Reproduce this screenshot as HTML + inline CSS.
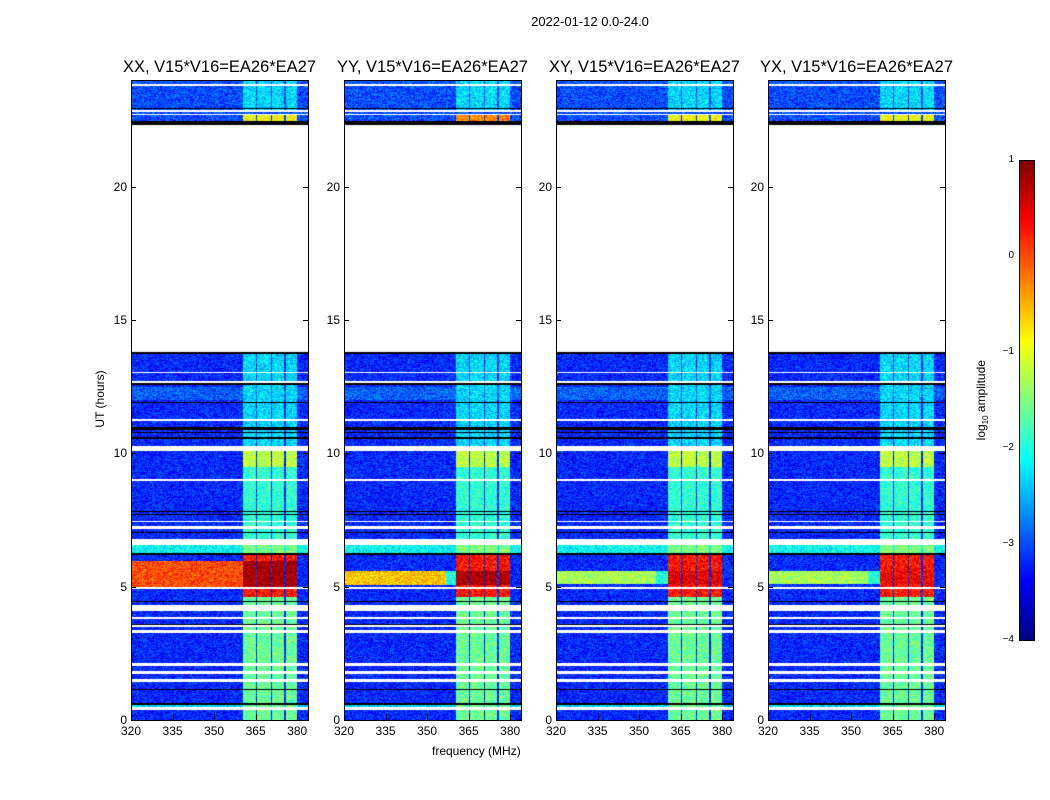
<!DOCTYPE html>
<html><head><meta charset="utf-8"><style>
body{margin:0;background:#fff;width:1050px;height:800px;position:relative;overflow:hidden;font-family:"Liberation Sans",sans-serif;}
.t{position:absolute;white-space:nowrap;color:#000;}
canvas{position:absolute;}
.frame{position:absolute;border:1px solid #000;box-sizing:border-box;}
</style></head><body>
<div class="t" style="left:0;width:1180px;text-align:center;top:14px;font-size:13px;">2022-01-12 0.0-24.0</div>
<div class="t" style="left:432px;top:744px;font-size:12px;">frequency (MHz)</div>
<div class="t" style="left:40px;top:392px;font-size:12px;transform:rotate(-90deg);transform-origin:center;width:120px;text-align:center;">UT (hours)</div>
<div class="t" style="left:922px;top:392px;font-size:12px;transform:rotate(-90deg);width:120px;text-align:center;">log<sub style="font-size:8px">10</sub> amplitude</div>
<div id="root"></div>
<script>
const panelTitles=["XX, V15*V16=EA26*EA27","YY, V15*V16=EA26*EA27","XY, V15*V16=EA26*EA27","YX, V15*V16=EA26*EA27"];
const panelLefts=[131,344,556,768];
const xTicks=[320,335,350,365,380];
const yTicks=[0,5,10,15,20];
const cbTicks=[1,0,-1,-2,-3,-4];
// flagged (white) time ranges in hours
const whiteGaps=[[0.38,0.5],[1.42,1.52],[1.72,1.82],[2.02,2.12],[3.28,3.36],[3.5,3.58],[3.78,3.86],[4.1,4.33],[4.92,4.97],[6.55,6.78],[7.18,7.26],[7.42,7.48],[8.98,9.04],[10.08,10.28],[11.22,11.27],[12.65,12.72],[13.0,13.05],[13.8,22.3],[22.68,22.74],[22.8,22.86],[23.78,23.84]];
// black (zero) rows
const blackRows=[[0.58,0.64],[1.12,1.16],[3.56,3.6],[4.42,4.46],[6.2,6.25],[7.0,7.04],[7.68,7.74],[7.8,7.84],[10.55,10.6],[10.75,10.8],[10.86,10.98],[11.9,11.94],[12.55,12.62],[13.72,13.8],[22.3,22.45],[22.92,22.96]];
// background level segments [t0,t1,log10 amp]
const bgSegs=[[0,13.8,-3.2],[6.25,6.55,-2.1],[0.5,0.58,-2.3],[12.0,12.5,-2.9],[22.3,24,-3.0]];
// RFI channel blocks (MHz)
const rfiCols=[[360.5,365.2],[365.6,370.4],[370.8,375.4],[375.8,380]];
// RFI level per time segment
const rfiSegs=[[0,4.6,-1.6],[4.6,6.2,0.3],[6.25,6.55,-1.5],[6.78,9.5,-1.9],[9.5,10.08,-1.2],[10.28,13.8,-2.3],[22.45,22.68,-0.9],[22.86,24,-2.3]];
// strong broadband band per panel [t0,t1,levelLowFreq,fMax,rfiPeak]
const hotBands=[[4.95,5.95,0.0,361,0.8],[5.05,5.6,-0.6,357,0.8],[5.1,5.6,-1.3,356,0.5],[5.1,5.6,-1.3,356,0.4]];
const rfiTopLevel=[-0.9,-0.3,-0.9,-0.9];

function jet(v){let t=(v+4)/5;t=Math.max(0,Math.min(1,t));
 const r=Math.max(0,Math.min(1,1.5-Math.abs(4*t-3))),g=Math.max(0,Math.min(1,1.5-Math.abs(4*t-2))),b=Math.max(0,Math.min(1,1.5-Math.abs(4*t-1)));
 return [r*255|0,g*255|0,b*255|0];}
function inR(h,a){for(const r of a)if(h>=r[0]&&h<r[1])return true;return false;}
function hash(x,y){let n=x*374761393+y*668265263;n=(n^(n>>13))*1274126177;return ((n^(n>>16))&1023)/1023;}
const W=177,H=640,X0=320,PX=2.77,HP=640/24;
const root=document.getElementById('root');
panelLefts.forEach((L,p)=>{
 const c=document.createElement('canvas');c.width=W;c.height=H;c.style.left=L+'px';c.style.top='80px';
 
 
 root.appendChild(c);
 const ctx=c.getContext('2d');const img=ctx.createImageData(W,H);
 const hb=hotBands[p];
 for(let y=0;y<H;y++){const h=(H-y-0.5)/HP;
  for(let x=0;x<W;x++){const f=X0+(x+0.5)/PX;let col;
   if(inR(h,blackRows))col=[0,0,0];
   else if(inR(h,whiteGaps))col=[255,255,255];
   else{let v=-3.2;for(const s of bgSegs)if(h>=s[0]&&h<s[1])v=s[2];
    let inCol=false;for(const r of rfiCols)if(f>=r[0]&&f<r[1])inCol=true;
    if(h>=hb[0]&&h<hb[1]){ if(f<hb[3])v=hb[2]; else if(f<360.5)v=-2.0; }
    if(inCol){for(const s of rfiSegs)if(h>=s[0]&&h<s[1]){let rv=s[2];
      if(s[0]==22.45)rv=rfiTopLevel[p];
      if(s[0]==4.6&&h>hb[0]&&h<hb[1])rv=hb[4];
      v=Math.max(v,rv);}}
    v+= (hash(x+p*1000,y)-0.5)*0.8;
    col=jet(v);}
   const i=(y*W+x)*4;img.data[i]=col[0];img.data[i+1]=col[1];img.data[i+2]=col[2];img.data[i+3]=255;}}
 ctx.putImageData(img,0,0);
 const fr=document.createElement('div');fr.className='frame';
 
 
 fr.style.cssText=`left:${L}px;top:80px;width:${W+1}px;height:${H+1}px`;root.appendChild(fr);
 const t=document.createElement('div');t.className='t';t.textContent=panelTitles[p];
 
 
 t.style.cssText=`left:${L-50}px;width:${W+100}px;text-align:center;top:58px;font-size:16.5px;`;root.appendChild(t);
 xTicks.forEach(v=>{const xx=L+(v-X0)*PX;const l=document.createElement('div');l.className='t';l.textContent=v;
  
  
  l.style.cssText=`left:${xx-15}px;width:30px;text-align:center;top:724px;font-size:12px;`;root.appendChild(l);
  const tk=document.createElement('div');tk.style.cssText=`position:absolute;left:${xx}px;top:714px;width:1px;height:6px;background:#000`;root.appendChild(tk);});
 yTicks.forEach(v=>{const yy=720-v*HP;const l=document.createElement('div');l.className='t';l.textContent=v;
  
  
  l.style.cssText=`left:${L-34}px;width:30px;text-align:right;top:${yy-7}px;font-size:12px;`;root.appendChild(l);
  const tk=document.createElement('div');tk.style.cssText=`position:absolute;left:${L}px;top:${yy}px;width:5px;height:1px;background:#000`;root.appendChild(tk);
  const tk2=document.createElement('div');tk2.style.cssText=`position:absolute;left:${L+W-5}px;top:${yy}px;width:5px;height:1px;background:#000`;root.appendChild(tk2);});
});
// colorbar
const cb=document.createElement('canvas');cb.width=15;cb.height=480;cb.style.left='1019px';cb.style.top='160px';


root.appendChild(cb);
const cctx=cb.getContext('2d');for(let y=0;y<480;y++){const c=jet(1-5*y/480);cctx.fillStyle=`rgb(${c})`;cctx.fillRect(0,y,15,1);}
const cf=document.createElement('div');cf.className='frame';cf.style.cssText='left:1019px;top:160px;width:16px;height:481px';root.appendChild(cf);
cbTicks.forEach(v=>{const yy=160+(1-v)*96;const l=document.createElement('div');l.className='t';l.textContent=v<0?'\u2212'+(-v):v;
 
 
 l.style.cssText=`left:996px;width:18px;text-align:right;top:${yy-6}px;font-size:10px;`;root.appendChild(l);});
</script>
</body></html>
